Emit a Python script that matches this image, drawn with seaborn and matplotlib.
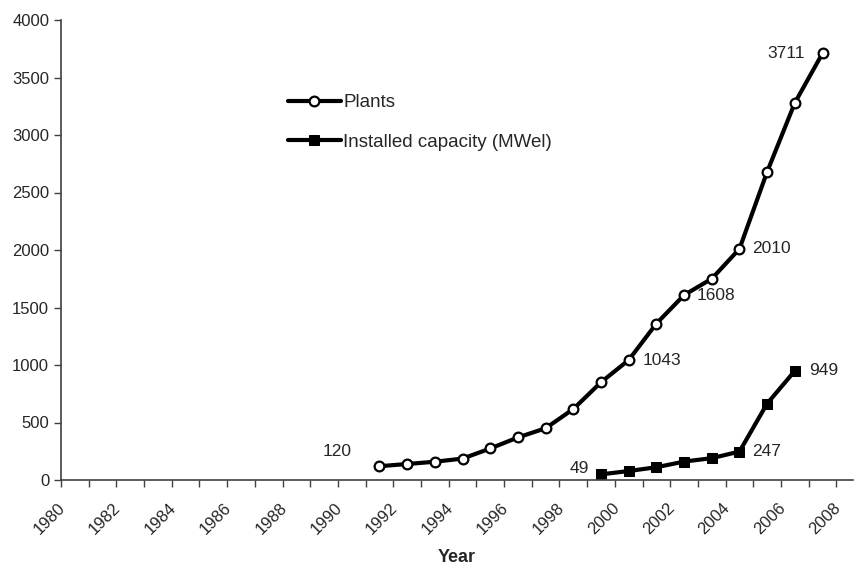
import numpy as np
import pandas as pd
import seaborn as sns
import matplotlib.pyplot as plt
import matplotlib.transforms as mtransforms
from matplotlib.ticker import MultipleLocator

# data
plant_years = [1991, 1992, 1993, 1994, 1995, 1996, 1997, 1998, 1999,
               2000, 2001, 2002, 2003, 2004, 2005, 2006, 2007]
plants = [120, 139, 159, 186, 274, 370, 450, 617, 850,
          1043, 1360, 1608, 1750, 2010, 2680, 3280, 3711]

cap_years = [1999, 2000, 2001, 2002, 2003, 2004, 2005, 2006]
capacity = [49, 78, 111, 160, 190, 247, 665, 949]

# which points carry a value label, and where (pixel offset, alignment)
plant_labels = {1991: (-42, 15, "center"), 2000: (14, 0, "left"),
                2002: (13, 0, "left"), 2004: (13, 0, "left"),
                2007: (-18, 0, "right")}
cap_labels = {1999: (-12, 6, "right"), 2004: (13, 0, "left"),
              2006: (14, 0, "left")}

sns.set_style("ticks")
plt.rcParams["font.family"] = ["Liberation Sans", "DejaVu Sans"]

df_p = pd.DataFrame({"x": np.array(plant_years) + 0.5, "y": plants})
df_c = pd.DataFrame({"x": np.array(cap_years) + 0.5, "y": capacity})

fig = plt.figure(figsize=(8.55, 5.65), dpi=100)
ax = fig.add_axes([61 / 855, 1 - 480 / 565, (853 - 61) / 855, (480 - 20) / 565])

sns.lineplot(data=df_p, x="x", y="y", ax=ax, color="black", lw=3,
             marker="o", markersize=7, markerfacecolor="white",
             markeredgecolor="black", markeredgewidth=1.6, label="Plants")
sns.lineplot(data=df_c, x="x", y="y", ax=ax, color="black", lw=3,
             marker="s", markersize=7, markerfacecolor="black",
             markeredgecolor="black", label="Installed capacity (MWel)")

for yr, v in zip(plant_years, plants):
    if yr in plant_labels:
        dx, dy, ha = plant_labels[yr]
        ax.annotate(str(v), (yr + 0.5, v), xytext=(dx, dy), textcoords="offset pixels",
                    ha=ha, va="center", fontsize=12.5)
for yr, v in zip(cap_years, capacity):
    if yr in cap_labels:
        dx, dy, ha = cap_labels[yr]
        ax.annotate(str(v), (yr + 0.5, v), xytext=(dx, dy), textcoords="offset pixels",
                    ha=ha, va="center", fontsize=12.5)

ax.set_xlim(1980, 2008.6)
ax.set_ylim(0, 4000)
ax.yaxis.set_major_locator(MultipleLocator(500))
ax.xaxis.set_major_locator(MultipleLocator(2))
ax.xaxis.set_minor_locator(MultipleLocator(1))
ax.tick_params(axis="both", which="both", direction="out", length=5,
               width=1, color="#404040", labelsize=12)
ax.tick_params(axis="x", which="major", pad=13.5)
shift = mtransforms.ScaledTranslation(0.02, 0, fig.dpi_scale_trans)
for lab in ax.get_xticklabels():
    lab.set_rotation(45)
    lab.set_ha("right")
    lab.set_va("center")
    lab.set_rotation_mode("anchor")
    lab.set_transform(lab.get_transform() + shift)

ax.set_xlabel("Year", fontsize=13, fontweight="bold", labelpad=8)
ax.set_ylabel("")
sns.despine(ax=ax)
for s in ["left", "bottom"]:
    ax.spines[s].set_color("#404040")
    ax.spines[s].set_linewidth(1.2)

ax.legend(loc="upper left", bbox_to_anchor=(288 / 855, 1 - 94 / 565),
          bbox_transform=fig.transFigure, frameon=False, fontsize=13.5,
          handlelength=2.8, handletextpad=0.15, labelspacing=1.2,
          borderpad=0, borderaxespad=0)

fig.savefig("out.png", dpi=100)
